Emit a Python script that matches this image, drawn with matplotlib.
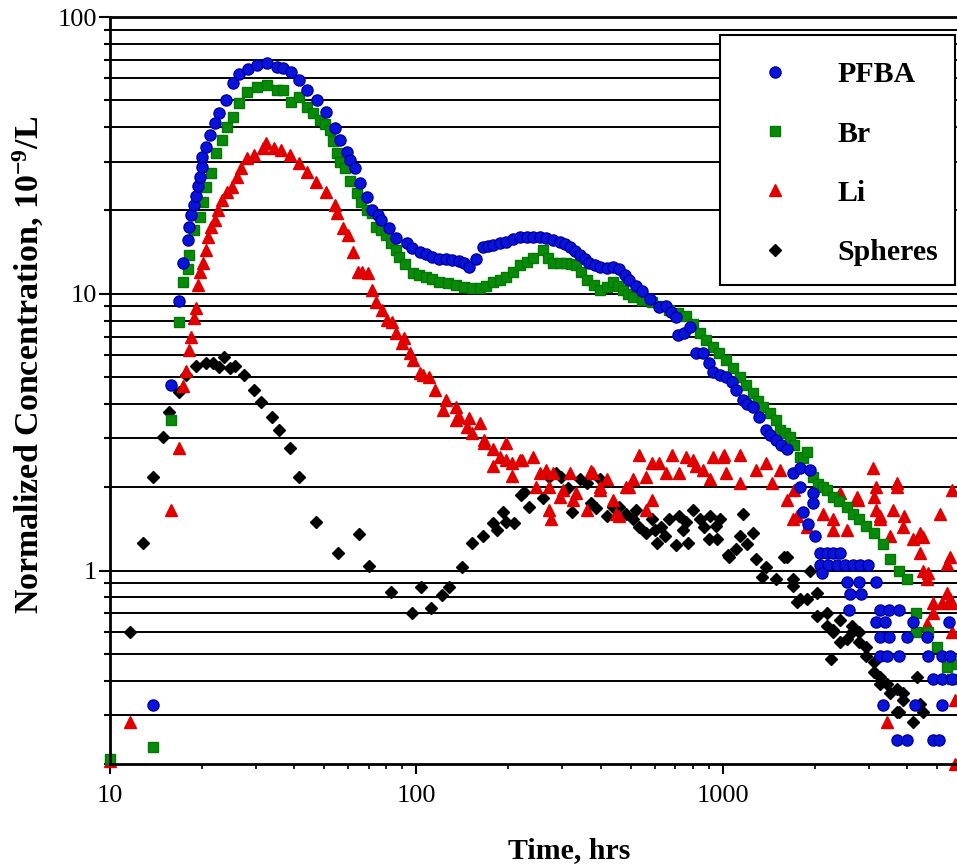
import matplotlib
matplotlib.use("Agg")
import matplotlib.pyplot as plt
from matplotlib.patches import Rectangle
from matplotlib.ticker import LogLocator, NullFormatter, FixedLocator, FixedFormatter

plt.rcParams["font.family"] = ["Liberation Serif", "DejaVu Serif"]
plt.rcParams["mathtext.fontset"] = "custom"
plt.rcParams["mathtext.rm"] = "Liberation Serif:bold"
plt.rcParams["mathtext.bf"] = "Liberation Serif:bold"
plt.rcParams["mathtext.default"] = "bf"

# ---------------- data ----------------
pfba_t = [13.9, 15.9, 16.9, 17.4, 18.0, 18.2, 18.5, 18.9, 19.2, 19.5, 19.7, 20.0, 20.1, 20.7,
          21.2, 22.0, 22.8, 23.9, 25.2, 26.5, 28.2, 30.2, 32.6, 35.1, 36.7, 39.2, 41.6, 44.2,
          47.6, 51.0, 54.2, 56.5, 59.3, 61, 63.0, 65.4, 68.9, 72.0, 75, 77.0, 81.8, 86.1, 93,
          97, 102.6, 108, 113, 119, 125, 131, 138, 143, 149, 157, 165, 171, 178, 187, 197,
          207, 218, 229, 240, 253, 266, 280, 294, 305, 317, 329, 341, 354, 367, 382, 398,
          418, 438, 460, 480, 495, 520, 546, 580, 620, 655, 680, 706, 712, 745, 780, 820,
          863, 900, 929, 980, 1026, 1070, 1107, 1160, 1200, 1250, 1315, 1383, 1430, 1490,
          1550, 1620, 1690, 1780, 1780, 1930, 1965, 1965, 1820, 1890, 2000,
          2070, 2180, 2290, 2410, 2070, 2200, 2350, 2500, 2650, 2800, 2980, 2100, 2540,
          2780, 3170, 2600, 2830, 3250, 3480, 3760, 2580, 3170, 3380, 4180, 3250, 3480,
          3990, 4640, 3250, 3440, 3760, 4660, 5200, 5500, 4850, 5200, 5600, 3330, 4240,
          5200, 3690, 3990, 4850, 5050, 5450]
pfba_c = [0.328, 4.69, 9.44, 12.9, 15.7, 17.5, 19.3, 20.9, 22.6, 24.5, 26.4, 28.7, 31.2, 34.0,
          37.5, 41.4, 45.0, 50.1, 57.8, 62.2, 64.9, 67.1, 68.2, 66.0, 65.5, 63.3, 59.3, 54.5,
          50.1, 45.4, 39.8, 36.0, 32.6, 30.5, 28.5, 25.1, 22.4, 20.1, 19.2, 18.5, 17.3, 15.9,
          15.3, 14.6, 14.2, 13.9, 13.6, 13.4, 13.3, 13.2, 13.1, 12.9, 12.5, 13.3, 14.7, 14.9,
          15.0, 15.2, 15.4, 15.8, 16.1, 16.0, 16.1, 16.1, 15.9, 15.6, 15.4, 15.1, 14.8, 14.3,
          13.8, 13.4, 12.9, 12.7, 12.5, 12.4, 12.5, 12.3, 11.7, 11.2, 10.7, 10.2, 9.6, 8.97,
          9.0, 8.6, 8.26, 7.11, 7.2, 7.6, 6.12, 6.12, 5.6, 5.23, 5.1, 5.0, 4.8, 4.5, 4.14,
          4.0, 3.9, 3.6, 3.23, 3.1, 2.97, 2.85, 2.74, 2.26, 2.35, 2.01, 2.31, 1.91, 1.76,
          1.63, 1.47, 1.33, 1.16, 1.16, 1.16, 1.16, 1.05, 1.05, 1.05, 1.05, 1.05, 1.05, 1.05,
          0.98, 0.906, 0.906, 0.906, 0.82, 0.82, 0.72, 0.72, 0.72, 0.72, 0.65, 0.65, 0.65,
          0.573, 0.573, 0.573, 0.573, 0.49, 0.49, 0.49, 0.49, 0.49, 0.49, 0.404, 0.404,
          0.404, 0.328, 0.328, 0.328, 0.245, 0.245, 0.245, 0.245, 0.65]

br_t = [10.0, 13.9, 15.9, 16.9, 17.4, 18.0, 18.2, 18.9, 19.7, 20.2, 20.7, 21.5, 22.3, 23.2,
        24.1, 25.2, 26.5, 28.0, 30.2, 32.6, 35.1, 36.7, 39.2, 41.6, 44.2, 46, 48.5, 50.5,
        52.2, 53.5, 55.0, 56.5, 58.4, 61, 63.9, 66, 68.9, 72, 74, 77, 80, 83, 86, 88, 92,
        97.5, 102, 108, 113, 119, 127, 135, 143, 152, 161, 169, 178, 187, 197, 207, 218,
        229, 240, 259, 270, 280, 295, 309, 320, 333, 345, 360, 380, 398, 418, 438, 455,
        472, 490, 509, 545, 587, 630, 670, 715, 760, 800, 840, 880, 929, 975, 1026, 1080,
        1140, 1190, 1250, 1300, 1350, 1420, 1490, 1540, 1590, 1650, 1700, 1780, 1830, 1880,
        1965, 2050, 2120, 2180, 2290, 2400, 2540, 2650, 2770, 2920, 3100, 3330, 3500, 3760,
        3990, 4270, 4270, 4660, 4990, 5370, 5600, 5800]
br_c = [0.208, 0.23, 3.5, 7.9, 11.0, 12.3, 13.8, 17.0, 19.0, 21.5, 24.3, 27.4, 32.3, 36.0,
        40.1, 43.6, 49.0, 53.6, 55.9, 56.8, 54.5, 54.5, 49.3, 51.4, 47.3, 45, 42.5, 41, 39.0,
        35.5, 32.3, 30, 28.5, 25.5, 23.2, 21.5, 20.1, 19.6, 17.5, 17, 16.3, 15.3, 14.4, 13.6,
        12.8, 11.9, 11.7, 11.5, 11.3, 11.0, 10.9, 10.8, 10.6, 10.5, 10.5, 10.7, 11.0, 11.2,
        11.5, 12, 12.7, 13, 13.5, 14.4, 13.5, 12.9, 12.9, 12.9, 12.8, 12.7, 12, 11.2, 10.8,
        10.3, 10.6, 11.0, 10.7, 10.3, 10, 9.75, 9.5, 9.3, 9.0, 8.75, 8.5, 8.3, 7.8, 7.2, 6.8,
        6.44, 6.1, 5.78, 5.4, 5.0, 4.7, 4.39, 4.1, 3.9, 3.7, 3.51, 3.23, 3.15, 3.05, 2.85,
        2.58, 2.55, 2.67, 2.18, 2.05, 2.0, 1.95, 1.85, 1.78, 1.70, 1.6, 1.53, 1.45, 1.37,
        1.25, 1.10, 1.0, 0.93, 0.705, 0.6, 0.6, 0.53, 0.45, 0.404, 0.46]

li_t = [10.0, 11.7, 15.9, 16.8, 17.3, 17.8, 18.1, 18.4, 18.8, 19.2, 19.5, 19.8, 20.2, 20.7,
        20.9, 21.5, 22.0, 22.5, 23.2, 24.1, 25.0, 26.0, 26.9, 28.0, 29.7, 31.6, 32.5, 34.5,
        36.3, 38.7, 41.6, 44.2, 47.3, 51.0, 54.2, 55.0, 57.6, 59.8, 62.0, 64.4, 66.5, 69.4,
        72, 74, 77.2, 80.1, 83.6, 86, 89.7, 91.5, 95.2, 97.6, 102.6, 105, 110, 115, 122, 125,
        135, 135, 138, 146, 149, 152, 161, 167, 167, 178, 178, 187, 197, 197, 206, 206, 218,
        222, 240, 246, 253, 266, 272, 272, 276, 280, 294, 302, 317, 324, 333, 360, 372, 377,
        398, 398, 419, 438, 449, 460, 484, 495, 509, 534, 560, 560, 587, 587, 620, 655, 684,
        722, 760, 800, 820, 860, 905, 929, 1000, 1026, 1010, 1140, 1140, 1280, 1385, 1450,
        1540, 1690, 1700, 1620, 1740, 1880, 2120, 2290, 2290, 2410, 2540, 2740, 2750, 3080,
        3100, 3170, 3170, 3250, 3250, 3500, 3440, 3690, 3690, 3600, 3860, 3900, 4180, 4380,
        4380, 4500, 4500, 4640, 4640, 4660, 4850, 4850, 5100, 5200, 5370, 5370, 5500, 5500,
        5600, 5600, 5600, 5700, 5700]
li_c = [0.205, 0.283, 1.66, 2.78, 4.66, 5.27, 6.28, 7.0, 8.2, 8.9, 10.8, 12.0, 12.9, 14.4,
        16.1, 17.5, 18.5, 20.1, 21.8, 23.3, 24.3, 26.4, 28.5, 31.0, 31.6, 33.7, 35.0, 33.7,
        33.0, 31.6, 29.7, 27.6, 25.4, 23.3, 20.9, 19.6, 17.3, 16.3, 14.1, 12.0, 12.0, 11.9,
        10.3, 9.3, 8.75, 8.06, 7.9, 7.2, 6.65, 6.9, 6.12, 5.78, 5.19, 5.1, 5.0, 4.5, 3.81,
        4.14, 3.9, 3.5, 3.6, 3.3, 3.57, 3.15, 3.4, 2.97, 2.9, 2.74, 2.39, 2.58, 2.51, 2.9,
        2.45, 2.2, 2.51, 2.51, 2.58, 2.01, 2.26, 2.3, 2.01, 1.66, 1.53, 2.26, 1.85, 1.96,
        2.26, 1.80, 1.91, 1.66, 2.28, 2.26, 2.01, 1.96, 2.14, 1.80, 1.6, 1.57, 2.01, 2.01,
        2.14, 2.62, 2.18, 1.66, 1.8, 2.45, 2.45, 2.26, 2.62, 2.26, 2.58, 2.51, 2.39, 2.3,
        2.14, 2.58, 2.58, 2.26, 2.62, 2.62, 2.08, 2.31, 2.45, 2.08, 2.31, 1.53, 1.96, 1.80,
        1.57, 1.44, 1.6, 1.53, 1.40, 1.91, 1.4, 1.85, 1.80, 2.35, 1.85, 2.01, 1.66, 1.57,
        1.53, 1.33, 0.283, 2.08, 2.01, 1.66, 1.44, 1.57, 1.30, 1.37, 1.16, 1.0, 1.32, 0.93,
        0.64, 0.98, 0.766, 0.705, 1.6, 0.766, 1.06, 0.83, 0.79, 1.12, 1.96, 0.6, 0.766,
        0.342, 0.2]

sph_t = [11.7, 12.9, 13.9, 14.9, 15.6, 16.8, 17.8, 19.2, 20.7, 21.7, 22.7, 23.6, 24.8, 25.6,
         27.4, 29.5, 31.3, 33.8, 35.8, 38.7, 41.6, 47.3, 55.8, 64.9, 70, 82.5, 96.9, 104,
         112, 121, 128, 141, 152, 165, 178, 183, 192, 197, 209, 220, 225, 233, 259, 272, 286,
         297, 312, 322, 341, 360, 372, 385, 398, 419, 438, 460, 484, 509, 520, 534, 560, 587,
         600, 610, 630, 650, 670, 706, 720, 740, 760, 770, 800, 840, 870, 900, 905, 950, 960,
         980, 1040, 1050, 1100, 1140, 1160, 1200, 1250, 1280, 1340, 1380, 1490, 1580, 1620,
         1690, 1690, 1740, 1780, 1880, 1930, 2030, 2030, 2180, 2180, 2260, 2290, 2290, 2410,
         2410, 2540, 2640, 2640, 2780, 2780, 2930, 2930, 3100, 3100, 3250, 3250, 3440, 3500,
         3690, 3690, 3760, 3860, 3860, 4180, 4300, 4380, 4500]
sph_c = [0.60, 1.26, 2.18, 3.05, 3.75, 4.4, 5.1, 5.5, 5.64, 5.6, 5.44, 5.93, 5.4, 5.5, 5.1,
         4.5, 4.07, 3.6, 3.23, 2.78, 2.18, 1.50, 1.16, 1.35, 1.04, 0.84, 0.70, 0.87, 0.735,
         0.818, 0.87, 1.03, 1.26, 1.33, 1.49, 1.40, 1.63, 1.50, 1.49, 1.88, 1.93, 1.70, 1.83,
         2.18, 2.26, 2.18, 1.99, 1.63, 2.14, 2.08, 1.76, 1.68, 2.14, 1.57, 1.70, 1.70, 1.6,
         1.53, 1.65, 1.44, 1.37, 1.53, 1.4, 1.26, 1.44, 1.33, 1.53, 1.24, 1.57, 1.40, 1.5,
         1.26, 1.66, 1.53, 1.44, 1.3, 1.57, 1.45, 1.30, 1.53, 1.14, 1.12, 1.2, 1.33, 1.6,
         1.25, 1.37, 1.1, 0.95, 1.03, 0.93, 1.12, 1.12, 0.88, 0.93, 0.77, 0.79, 0.79, 1.0,
         0.83, 0.683, 0.705, 0.63, 0.478, 0.612, 0.6, 0.66, 0.55, 0.564, 0.63, 0.6, 0.6, 0.55,
         0.53, 0.49, 0.466, 0.43, 0.414, 0.39, 0.39, 0.36, 0.372, 0.307, 0.307, 0.34, 0.36,
         0.283, 0.414, 0.33, 0.307]

series_names = ["PFBA", "Br", "Li", "Spheres"]
y_ticks = [1, 10, 100]
x_ticks = [10, 100, 1000]

# ---------------- figure ----------------
W, H = 957, 866
fig = plt.figure(figsize=(W / 100, H / 100), dpi=100)
# axes run to 10,000 hrs; the right part falls outside the picture (as in the original)
ax = fig.add_axes([109.5 / W, (H - 764) / H, (1029.5 - 109.5) / W, (764 - 17) / H])
ax.set_xscale("log")
ax.set_yscale("log")
ax.set_xlim(10, 10000)
ax.set_ylim(0.2, 100)

grid_levels = [v * m for m in (0.1, 1, 10) for v in range(2, 10)] + [1, 10]
for g in grid_levels:
    if 0.2 < g < 100:
        ax.axhline(g, color="black", lw=1.4, zorder=1)

ax.plot(sph_t, sph_c, "D", color="black", ms=6.5, mec="black", ls="none",
        clip_on=False, zorder=3, label=series_names[3])
ax.plot(li_t, li_c, "^", color="#e00000", ms=8, mec="#e00000", ls="none",
        clip_on=False, zorder=4, label=series_names[2])
ax.plot(br_t, br_c, "s", color="#0a8a0a", ms=7, mec="#007a00", ls="none",
        clip_on=False, zorder=5, label=series_names[1])
ax.plot(pfba_t, pfba_c, "o", color="#0a14d8", ms=8, mec="#0000a8", mew=1.0, ls="none",
        clip_on=False, zorder=6, label=series_names[0])

for side in ("top", "left", "bottom", "right"):
    ax.spines[side].set_linewidth(2.0)
    ax.spines[side].set_zorder(7)

ax.yaxis.set_major_locator(FixedLocator(y_ticks))
ax.yaxis.set_major_formatter(FixedFormatter([str(v) for v in y_ticks]))
ax.yaxis.set_minor_locator(LogLocator(base=10, subs=range(2, 10)))
ax.yaxis.set_minor_formatter(NullFormatter())
ax.xaxis.set_major_locator(FixedLocator(x_ticks))
ax.xaxis.set_major_formatter(FixedFormatter([str(v) for v in x_ticks]))
ax.xaxis.set_minor_locator(LogLocator(base=10, subs=range(2, 10)))
ax.xaxis.set_minor_formatter(NullFormatter())

ax.tick_params(axis="y", which="major", direction="out", length=8, width=1.5,
               labelsize=19, pad=1)
ax.tick_params(axis="y", which="minor", direction="out", length=4, width=1.5)
ax.tick_params(axis="x", which="major", direction="out", length=7, width=1.5,
               labelsize=19, pad=8)
ax.tick_params(axis="x", which="minor", direction="out", length=3.5, width=1.2)

ax.set_xlabel("Time, hrs", fontsize=21.5, fontweight="bold")
ax.xaxis.set_label_coords(0.5, -(837 - 764) / (764 - 17))
ax.set_ylabel(r"Normalized Concentration, 10$^{-9}$/L", fontsize=24.5, fontweight="bold")
ax.yaxis.set_label_coords(-(109.5 - 46) / (1029.5 - 109.5), (764 - 365) / (764 - 17))

# legend: box drawn at its place in the picture, entries laid over it
box = Rectangle((720 / W, (H - 285) / H), (955 - 720) / W, (285 - 35) / H,
                transform=fig.transFigure, facecolor="white", edgecolor="black",
                lw=1.5, clip_on=False, zorder=9)
ax.add_patch(box)

handles, labels = ax.get_legend_handles_labels()
order = [labels.index(n) for n in series_names]
leg = ax.legend([handles[i] for i in order], [labels[i] for i in order],
                loc="upper left", bbox_to_anchor=(720 / W, (H - 35) / H),
                bbox_transform=fig.transFigure, borderaxespad=0,
                prop={"family": "Liberation Serif", "weight": "bold", "size": 21.5},
                frameon=False, handlelength=1.9, handletextpad=1.15, borderpad=0.88,
                labelspacing=1.08, numpoints=1)
leg.set_zorder(10)

fig.savefig("out.png", dpi=100)
